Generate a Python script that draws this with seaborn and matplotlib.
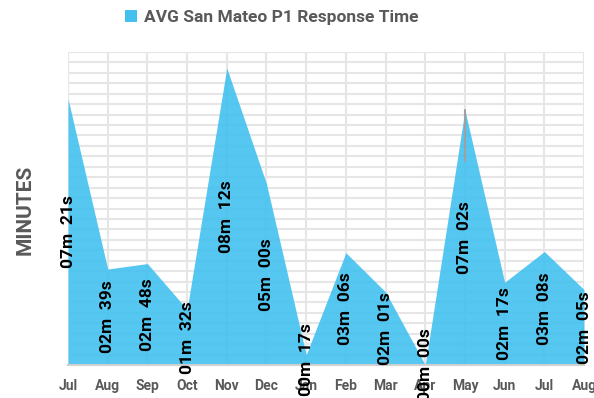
import numpy as np
import pandas as pd
import matplotlib
matplotlib.use("Agg")
import matplotlib.pyplot as plt
from matplotlib.patches import Patch
import seaborn as sns

# Monthly average P1 response time (minutes, seconds)
months = ["Jul", "Aug", "Sep", "Oct", "Nov", "Dec", "Jan", "Feb",
          "Mar", "Apr", "May", "Jun", "Jul", "Aug"]
minutes = [7, 2, 2, 1, 8, 5, 0, 3, 2, 0, 7, 2, 3, 2]
seconds = [21, 39, 48, 32, 12, 0, 17, 6, 1, 0, 2, 17, 8, 5]

series_name = "AVG San Mateo P1 Response Time"
area_color = "#42C1F0"
grid_color = "#E6E6E6"
text_gray = "#595959"

# Values stored as fractions of a day (spreadsheet time format)
df = pd.DataFrame({
    "idx": np.arange(len(months)),
    "month": months,
    "days": [(m * 60 + s) / 86400 for m, s in zip(minutes, seconds)],
    "label": [f"{m:02d}m  {s:02d}s" for m, s in zip(minutes, seconds)],
})

sns.set_theme(style="white")
plt.rcParams["font.family"] = ["Roboto", "DejaVu Sans"]

fig = plt.figure(figsize=(5.94, 3.98), dpi=100)
ax = fig.add_axes([0.1145, 0.0829, 0.8687, 0.7864])

# Gridlines behind the series
ymax = 0.006
ax.set_yticks(np.arange(0, ymax + 1e-9, 0.0002))
ax.set_xticks(df["idx"])
ax.grid(True, color=grid_color, linewidth=1.5, zorder=0)
ax.set_axisbelow(True)

sns.lineplot(data=df, x="idx", y="days", ax=ax, color=area_color,
             linewidth=0, legend=False)
ax.fill_between(df["idx"], df["days"], 0, color=area_color, alpha=0.9,
                linewidth=0, zorder=2)

ax.set_xlim(df["idx"].min(), df["idx"].max())
ax.set_ylim(0, ymax)

for side in ["top", "right", "left"]:
    ax.spines[side].set_visible(False)
ax.spines["bottom"].set_color("#D0D0D0")
ax.spines["bottom"].set_linewidth(1.5)
ax.spines["bottom"].set_zorder(3)

ax.set_xticklabels(df["month"], fontsize=10, fontweight="bold", color=text_gray)
ax.tick_params(axis="x", length=0, pad=10)
ax.set_yticklabels([])
ax.tick_params(axis="y", length=0)
ax.set_xlabel("")
ax.set_ylabel("")
fig.text(25 / 594, 1 - 210 / 398, "MINUTES", rotation=90, ha="center",
         va="center", fontsize=15, fontweight="bold", color=text_gray)

# Value labels, centred within the filled area
for _, row in df.iterrows():
    ax.text(row["idx"], row["days"] / 2, row["label"], rotation=90,
            ha="center", va="center", fontsize=12.5, fontweight="bold",
            color="black", zorder=4)

# Leader line for the May label
may = df.iloc[10]
ax.plot([may["idx"], may["idx"]], [may["days"], may["days"] * 0.8],
        color="#A0A0A0", linewidth=1.5, zorder=3)

fig.legend(handles=[Patch(facecolor=area_color, edgecolor="none", label=series_name)],
           loc="center", bbox_to_anchor=(0.458, 0.955), frameon=False,
           handlelength=0.7, handleheight=0.7, handletextpad=0.4,
           prop={"size": 12.5, "weight": "bold"}, labelcolor=text_gray)

fig.savefig("out.png", dpi=100)
